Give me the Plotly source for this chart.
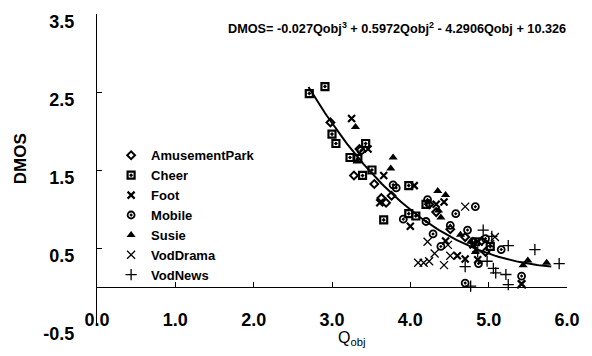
import numpy as np
import plotly.graph_objects as go

# ---- data ----
amuse_q = [2.98, 3.28, 3.54, 3.35, 3.63, 3.69, 3.76, 4.24, 4.33, 4.51, 4.70, 4.80, 4.91, 4.96]
amuse_d = [2.11, 1.43, 1.32, 1.77, 1.14, 1.08, 1.17, 1.06, 0.96, 0.74, 0.64, 0.58, 0.59, 0.45]

cheer_q = [2.71, 2.91, 3.00, 3.05, 3.43, 3.23, 3.33, 3.51, 3.39, 3.98, 3.98, 4.07, 3.66, 4.20, 4.83, 5.02]
cheer_d = [2.48, 2.57, 1.96, 1.84, 1.84, 1.66, 1.65, 1.50, 1.43, 1.30, 0.94, 0.91, 0.86, 1.06, 0.58, 0.52]

foot_q = [3.25, 3.46, 3.66, 3.61, 4.05, 4.33, 4.43, 4.00, 4.45, 4.60, 4.80, 4.70, 4.86, 5.42]
foot_d = [2.16, 1.77, 1.43, 1.08, 1.30, 1.06, 1.09, 0.78, 0.59, 0.40, 0.54, 0.36, 0.35, 0.04]

mobile_q = [3.37, 3.78, 3.82, 4.22, 3.91, 4.20, 4.58, 4.83, 4.51, 4.29, 4.73, 4.39, 4.96, 5.16, 4.87, 4.70, 5.42]
mobile_d = [1.75, 1.31, 1.27, 1.12, 0.87, 0.84, 0.94, 1.03, 0.79, 0.68, 0.73, 0.52, 0.62, 0.48, 0.30, 0.05, 0.14]

susie_q = [3.30, 3.32, 3.78, 3.75, 4.35, 4.45, 4.36, 4.39, 4.64, 4.77, 4.83, 5.44, 5.50, 5.74]
susie_d = [2.05, 1.61, 1.66, 1.52, 1.23, 1.18, 0.98, 0.89, 0.67, 0.58, 0.45, 0.28, 0.34, 0.31]

drama_q = [4.22, 4.31, 4.10, 4.17, 4.24, 4.43, 4.48, 4.51, 4.70, 4.87, 5.02, 5.08, 5.42]
drama_d = [0.58, 0.43, 0.31, 0.31, 0.33, 0.28, 0.54, 0.40, 1.03, 0.58, 0.55, 0.64, 0.03]

news_q = [4.93, 5.04, 5.25, 5.59, 5.90, 4.70, 4.98, 5.06, 5.09, 5.22, 5.25, 4.77, 4.86]
news_d = [0.73, 0.65, 0.53, 0.48, 0.30, 0.26, 0.33, 0.24, 0.18, 0.16, 0.03, 0.01, 0.45]

# regression coefficients shown on the chart (cubic, highest power first)
fit_coef = [-0.027, 0.5972, -4.2906, 10.326]
fit_range = [2.7, 5.8]

x_ticks = [0, 1, 2, 3, 4, 5, 6]
y_ticks = [-0.5, 0.5, 1.5, 2.5, 3.5]

FONT = "Liberation Sans, Arial, sans-serif"

series = [
    ("AmusementPark", amuse_q, amuse_d, dict(symbol="diamond-open", size=6, line=dict(width=2, color="black"))),
    ("Cheer", cheer_q, cheer_d, dict(symbol="square-open-dot", size=7, line=dict(width=2.2, color="black"))),
    ("Foot", foot_q, foot_d, dict(symbol="x-thin-open", size=7, line=dict(width=2.2, color="black"))),
    ("Mobile", mobile_q, mobile_d, dict(symbol="circle-open-dot", size=7, line=dict(width=1.8, color="black"))),
    ("Susie", susie_q, susie_d, dict(symbol="triangle-up", size=8, line=dict(width=0))),
    ("VodDrama", drama_q, drama_d, dict(symbol="x-thin-open", size=8, line=dict(width=1.3, color="black"))),
    ("VodNews", news_q, news_d, dict(symbol="cross-thin-open", size=8, line=dict(width=1.3, color="black"))),
]

fig = go.Figure()
for name, q, d, mk in series:
    fig.add_trace(go.Scatter(x=q, y=d, mode="markers", name=name,
                             marker=dict(color="black", **mk)))

qq = np.linspace(fit_range[0], fit_range[1], 120)
fig.add_trace(go.Scatter(x=qq, y=np.polyval(fit_coef, qq), mode="lines",
                         line=dict(color="black", width=2), showlegend=False))

fig.update_layout(
    width=592, height=356,
    margin=dict(l=97, r=19, t=13, b=25),
    plot_bgcolor="white", paper_bgcolor="white",
    font=dict(family=FONT, color="black"),
    showlegend=True,
    legend=dict(x=0.03, y=0.595, xanchor="left", yanchor="top",
                bgcolor="rgba(0,0,0,0)", itemwidth=30,
                font=dict(size=13, family=FONT, weight="bold"),
                tracegroupgap=0),
    xaxis=dict(range=[0, 6], anchor="free", position=0.06,
               tickvals=x_ticks, ticktext=[f"{v:.1f}" for v in x_ticks],
               showline=False, ticks="", showgrid=False, zeroline=False,
               ticklabeloverflow="allow",
               tickfont=dict(size=18, family=FONT, weight="bold")),
    xaxis2=dict(range=[0, 6], overlaying="x", anchor="free", position=0.125,
                tickvals=x_ticks, showticklabels=False, showline=True,
                linecolor="black", linewidth=1, ticks="inside", ticklen=5,
                tickcolor="black", showgrid=False, zeroline=False),
    yaxis=dict(range=[-0.5, 3.5], tickvals=y_ticks,
               ticktext=[f"{v:.1f}" for v in y_ticks],
               showline=True, linecolor="black", linewidth=1,
               ticks="inside", ticklen=5, tickcolor="black",
               showgrid=False, zeroline=False, ticklabelstandoff=18,
               ticklabelshift=8, ticklabeloverflow="allow",
               tickfont=dict(size=18, family=FONT, weight="bold")),
)
# dummy trace to activate xaxis2
fig.add_trace(go.Scatter(x=[None], y=[None], xaxis="x2", showlegend=False))

fig.add_annotation(text="DMOS= -0.027Qobj<sup>3</sup> + 0.5972Qobj<sup>2</sup> - 4.2906Qobj + 10.326",
                   xref="paper", yref="paper", x=(401 - 97) / 476, y=(331 - 27) / 318,
                   xanchor="center", yanchor="middle", showarrow=False,
                   font=dict(size=12.7, family=FONT, weight="bold"))
fig.add_annotation(text="Q<sub>obj</sub>", xref="paper", yref="paper",
                   x=(355 - 97) / 476, y=(331 - 344) / 318,
                   xanchor="center", yanchor="middle", showarrow=False,
                   font=dict(size=16, family=FONT))
fig.add_annotation(text="DMOS", xref="paper", yref="paper", textangle=-90,
                   x=(19 - 97) / 476, y=(331 - 160) / 318,
                   xanchor="center", yanchor="middle", showarrow=False,
                   font=dict(size=17, family=FONT, weight="bold"))

fig.write_html("out.html", config={"displayModeBar": False},
               post_script="document.body.style.margin='0px';")
